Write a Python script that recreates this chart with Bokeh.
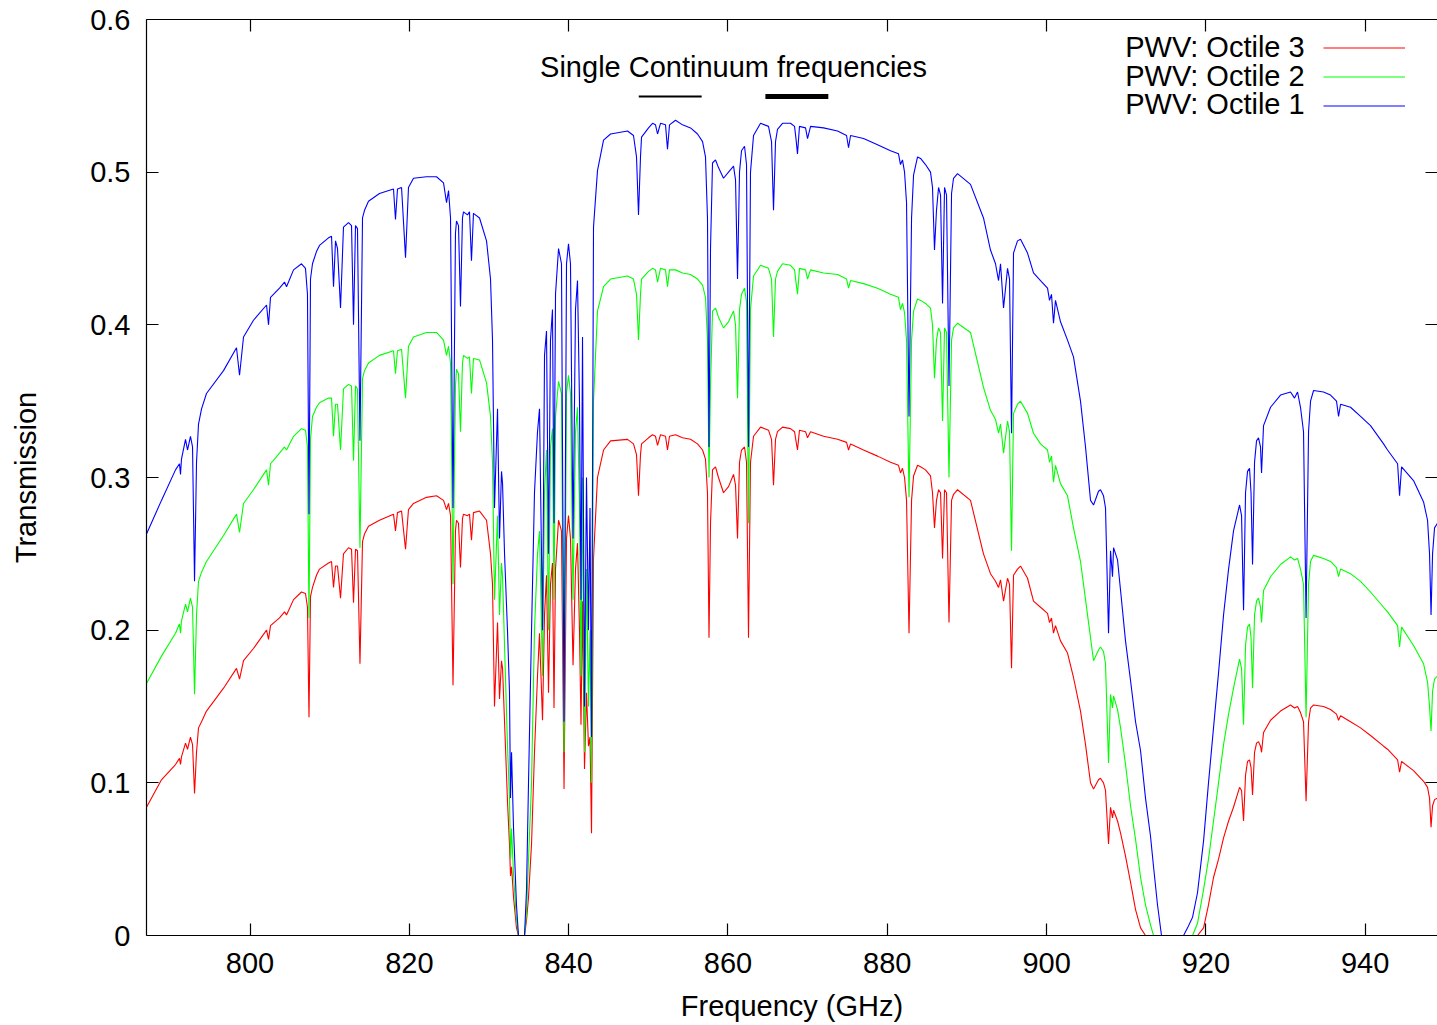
from bokeh.plotting import figure
from bokeh.models import (LinearAxis, FixedTicker, Label, Legend, LegendItem,
                          Range1d, ColumnDataSource)
from bokeh.core.properties import value
from bokeh.embed import file_html
from bokeh.resources import INLINE

FONT = "Liberation Sans"

# ---------------- data ----------------
freq = [
    787.00, 788.88, 790.64, 791.14, 791.27, 791.39, 791.90, 792.15, 792.52, 792.78,
    793.03, 793.28, 793.53, 793.91, 794.53, 796.67, 798.30, 798.68, 799.18, 800.43,
    802.07, 802.32, 802.57, 803.70, 804.33, 804.58, 805.46, 806.46, 806.96, 807.21,
    807.40, 807.59, 807.84, 808.34, 808.72, 809.85, 810.23, 810.48, 810.73, 810.98,
    811.36, 811.73, 812.36, 812.74, 812.99, 813.24, 813.49, 813.80, 814.12, 814.37,
    814.87, 816.25, 818.01, 818.26, 818.51, 819.02, 819.52, 819.89, 820.52, 822.15,
    823.41, 824.29, 824.67, 824.92, 825.17, 825.48, 825.79, 825.92, 826.17, 826.42,
    826.67, 826.80, 827.30, 827.55, 827.80, 828.05, 828.81, 829.69, 830.19, 830.44,
    830.69, 831.07, 831.32, 831.57, 831.70, 831.95, 832.32, 832.57, 832.70, 832.83,
    833.08, 833.45, 833.70, 834.46, 834.71, 834.96, 835.34, 835.71, 836.09, 836.34,
    836.72, 836.97, 837.22, 837.47, 837.72, 837.97, 838.16, 838.35, 838.73, 839.10,
    839.42, 839.73, 839.98, 840.23, 840.55, 840.86, 841.11, 841.36, 841.55, 841.74,
    841.99, 842.24, 842.49, 842.68, 842.87, 843.12, 843.62, 844.38, 845.26, 847.39,
    848.14, 848.52, 848.77, 849.02, 849.15, 850.03, 850.53, 850.90, 851.16, 851.53,
    852.16, 852.41, 852.66, 853.42, 854.29, 855.30, 856.18, 856.81, 857.18, 857.43,
    857.62, 857.81, 858.06, 858.44, 858.81, 859.44, 860.07, 860.70, 860.95, 861.20,
    861.45, 861.70, 862.08, 862.33, 862.58, 862.83, 863.21, 864.09, 865.09, 865.47,
    865.72, 865.97, 866.22, 866.85, 867.85, 868.36, 868.54, 868.73, 868.98, 869.74,
    869.99, 870.37, 872.00, 873.76, 874.89, 875.14, 875.39, 877.02, 878.78, 880.41,
    881.41, 881.66, 881.91, 882.17, 882.42, 882.73, 883.05, 883.30, 883.80, 884.18,
    884.80, 885.43, 885.68, 885.93, 886.18, 886.44, 886.69, 886.94, 887.19, 887.44,
    887.75, 888.07, 888.32, 888.82, 890.45, 892.08, 892.96, 893.59, 893.97, 894.22,
    894.60, 895.10, 895.35, 895.60, 895.85, 896.35, 896.73, 897.61, 898.36, 899.24,
    900.12, 900.37, 900.62, 900.87, 901.12, 901.75, 902.63, 903.38, 904.26, 904.89,
    905.52, 905.90, 906.52, 906.77, 907.15, 907.40, 907.78, 908.03, 908.28, 908.41,
    908.91, 909.29, 909.91, 910.54, 911.17, 911.80, 912.42, 913.05, 913.43, 913.93,
    914.43, 917.20, 917.70, 918.33, 918.95, 919.71, 920.33, 920.96, 921.59, 922.22,
    922.85, 923.47, 924.23, 924.48, 924.73, 924.98, 925.23, 925.48, 925.67, 925.86,
    926.11, 926.36, 926.61, 926.86, 926.99, 927.24, 928.12, 929.37, 930.63, 931.13,
    931.51, 931.88, 932.26, 932.58, 932.89, 933.14, 933.52, 934.77, 935.65, 936.40,
    936.66, 936.91, 938.16, 939.42, 940.67, 942.31, 942.81, 944.07, 944.32, 944.57,
    946.07, 947.33, 947.83, 948.08, 948.27, 948.46, 948.71, 949.08,
]

octile1 = [
    0.263, 0.285, 0.305, 0.309, 0.302, 0.312, 0.325, 0.318, 0.327, 0.320,
    0.232, 0.310, 0.335, 0.345, 0.355, 0.370, 0.385, 0.367, 0.392, 0.403,
    0.413, 0.400, 0.418, 0.424, 0.428, 0.425, 0.436, 0.440, 0.437, 0.420,
    0.276, 0.430, 0.440, 0.448, 0.452, 0.457, 0.458, 0.425, 0.455, 0.450,
    0.411, 0.464, 0.467, 0.465, 0.400, 0.465, 0.463, 0.324, 0.470, 0.475,
    0.481, 0.486, 0.489, 0.469, 0.489, 0.490, 0.444, 0.490, 0.496, 0.497,
    0.497, 0.493, 0.480, 0.488, 0.470, 0.280, 0.460, 0.468, 0.465, 0.412,
    0.470, 0.474, 0.472, 0.474, 0.442, 0.473, 0.470, 0.455, 0.430, 0.390,
    0.280, 0.345, 0.260, 0.304, 0.296, 0.250, 0.200, 0.160, 0.090, 0.120,
    0.070, 0.020, 0.000, 0.000, 0.030, 0.100, 0.200, 0.290, 0.330, 0.345,
    0.200, 0.380, 0.396, 0.250, 0.390, 0.410, 0.270, 0.420, 0.450, 0.440,
    0.140, 0.440, 0.453, 0.440, 0.260, 0.410, 0.429, 0.350, 0.220, 0.392,
    0.150, 0.300, 0.200, 0.280, 0.130, 0.464, 0.501, 0.521, 0.525, 0.527,
    0.524, 0.510, 0.472, 0.510, 0.523, 0.529, 0.532, 0.531, 0.525, 0.532,
    0.531, 0.515, 0.531, 0.534, 0.531, 0.529, 0.525, 0.520, 0.510, 0.470,
    0.320, 0.450, 0.506, 0.508, 0.503, 0.496, 0.500, 0.504, 0.495, 0.430,
    0.500, 0.514, 0.517, 0.505, 0.320, 0.500, 0.524, 0.532, 0.530, 0.520,
    0.475, 0.520, 0.528, 0.532, 0.532, 0.530, 0.522, 0.512, 0.530, 0.529,
    0.522, 0.530, 0.529, 0.527, 0.524, 0.516, 0.524, 0.522, 0.518, 0.514,
    0.512, 0.505, 0.508, 0.500, 0.480, 0.340, 0.470, 0.498, 0.510, 0.509,
    0.505, 0.500, 0.490, 0.449, 0.475, 0.490, 0.485, 0.414, 0.490, 0.485,
    0.360, 0.486, 0.496, 0.499, 0.492, 0.470, 0.449, 0.440, 0.429, 0.440,
    0.411, 0.437, 0.430, 0.329, 0.447, 0.455, 0.456, 0.447, 0.434, 0.429,
    0.424, 0.416, 0.420, 0.401, 0.416, 0.402, 0.390, 0.379, 0.350, 0.320,
    0.285, 0.282, 0.291, 0.292, 0.288, 0.280, 0.198, 0.252, 0.235, 0.254,
    0.246, 0.226, 0.193, 0.167, 0.140, 0.121, 0.090, 0.065, 0.045, 0.020,
    0.000, 0.000, 0.005, 0.012, 0.028, 0.062, 0.100, 0.136, 0.172, 0.210,
    0.240, 0.265, 0.282, 0.275, 0.213, 0.290, 0.304, 0.306, 0.290, 0.243,
    0.310, 0.324, 0.326, 0.320, 0.303, 0.334, 0.346, 0.354, 0.356, 0.352,
    0.356, 0.346, 0.330, 0.208, 0.330, 0.350, 0.357, 0.356, 0.354, 0.350,
    0.340, 0.348, 0.346, 0.340, 0.334, 0.322, 0.318, 0.309, 0.288, 0.307,
    0.298, 0.284, 0.272, 0.250, 0.210, 0.250, 0.267, 0.270,
]

octile2 = [
    0.165, 0.183, 0.198, 0.204, 0.198, 0.206, 0.217, 0.212, 0.221, 0.215,
    0.158, 0.210, 0.232, 0.238, 0.245, 0.262, 0.276, 0.264, 0.283, 0.292,
    0.305, 0.295, 0.309, 0.316, 0.320, 0.318, 0.327, 0.332, 0.331, 0.320,
    0.208, 0.325, 0.340, 0.346, 0.349, 0.352, 0.352, 0.327, 0.348, 0.348,
    0.318, 0.358, 0.361, 0.360, 0.311, 0.360, 0.358, 0.254, 0.365, 0.370,
    0.375, 0.380, 0.383, 0.368, 0.383, 0.384, 0.352, 0.386, 0.392, 0.395,
    0.395, 0.390, 0.380, 0.386, 0.375, 0.230, 0.360, 0.371, 0.368, 0.330,
    0.375, 0.380, 0.378, 0.379, 0.355, 0.378, 0.377, 0.362, 0.340, 0.310,
    0.220, 0.275, 0.210, 0.244, 0.235, 0.190, 0.125, 0.090, 0.050, 0.070,
    0.040, 0.010, 0.000, 0.000, 0.015, 0.050, 0.100, 0.200, 0.250, 0.265,
    0.170, 0.290, 0.318, 0.200, 0.320, 0.332, 0.220, 0.340, 0.363, 0.355,
    0.120, 0.355, 0.367, 0.355, 0.220, 0.330, 0.346, 0.280, 0.170, 0.300,
    0.120, 0.240, 0.150, 0.200, 0.100, 0.350, 0.409, 0.425, 0.430, 0.432,
    0.430, 0.420, 0.390, 0.420, 0.430, 0.435, 0.437, 0.436, 0.428, 0.437,
    0.436, 0.425, 0.436, 0.436, 0.434, 0.433, 0.430, 0.426, 0.418, 0.390,
    0.300, 0.360, 0.409, 0.411, 0.405, 0.398, 0.402, 0.409, 0.400, 0.352,
    0.410, 0.420, 0.424, 0.415, 0.270, 0.410, 0.432, 0.439, 0.437, 0.430,
    0.392, 0.430, 0.435, 0.440, 0.439, 0.436, 0.428, 0.420, 0.437, 0.436,
    0.430, 0.436, 0.434, 0.433, 0.430, 0.424, 0.429, 0.427, 0.424, 0.420,
    0.418, 0.410, 0.414, 0.408, 0.390, 0.287, 0.390, 0.409, 0.417, 0.416,
    0.414, 0.411, 0.400, 0.365, 0.390, 0.398, 0.395, 0.337, 0.398, 0.395,
    0.300, 0.390, 0.398, 0.401, 0.395, 0.359, 0.344, 0.338, 0.329, 0.335,
    0.316, 0.337, 0.330, 0.252, 0.342, 0.348, 0.350, 0.342, 0.329, 0.322,
    0.318, 0.310, 0.314, 0.297, 0.308, 0.296, 0.288, 0.267, 0.245, 0.220,
    0.195, 0.180, 0.187, 0.189, 0.186, 0.178, 0.113, 0.158, 0.149, 0.157,
    0.148, 0.136, 0.112, 0.085, 0.063, 0.038, 0.020, 0.007, 0.000, 0.000,
    0.000, 0.000, 0.000, 0.000, 0.008, 0.030, 0.050, 0.075, 0.100, 0.125,
    0.145, 0.162, 0.181, 0.175, 0.138, 0.190, 0.202, 0.204, 0.195, 0.162,
    0.210, 0.219, 0.221, 0.215, 0.205, 0.226, 0.235, 0.243, 0.248, 0.246,
    0.247, 0.240, 0.230, 0.143, 0.230, 0.245, 0.249, 0.247, 0.245, 0.241,
    0.235, 0.240, 0.237, 0.232, 0.225, 0.215, 0.212, 0.203, 0.189, 0.202,
    0.190, 0.178, 0.166, 0.150, 0.134, 0.160, 0.168, 0.170,
]

octile3 = [
    0.084, 0.102, 0.112, 0.116, 0.112, 0.117, 0.126, 0.122, 0.130, 0.125,
    0.093, 0.120, 0.136, 0.140, 0.147, 0.162, 0.175, 0.168, 0.180, 0.188,
    0.200, 0.194, 0.203, 0.208, 0.212, 0.210, 0.220, 0.225, 0.224, 0.215,
    0.143, 0.222, 0.228, 0.236, 0.240, 0.244, 0.245, 0.228, 0.242, 0.242,
    0.221, 0.250, 0.254, 0.253, 0.218, 0.253, 0.252, 0.178, 0.258, 0.263,
    0.268, 0.272, 0.276, 0.265, 0.277, 0.278, 0.253, 0.279, 0.283, 0.287,
    0.288, 0.285, 0.279, 0.283, 0.275, 0.164, 0.265, 0.272, 0.270, 0.241,
    0.273, 0.276, 0.275, 0.276, 0.259, 0.277, 0.278, 0.272, 0.250, 0.230,
    0.150, 0.205, 0.155, 0.180, 0.175, 0.140, 0.088, 0.060, 0.039, 0.045,
    0.025, 0.005, 0.000, 0.000, 0.010, 0.025, 0.060, 0.120, 0.170, 0.198,
    0.141, 0.210, 0.236, 0.159, 0.230, 0.244, 0.149, 0.240, 0.272, 0.265,
    0.096, 0.260, 0.275, 0.260, 0.177, 0.240, 0.257, 0.200, 0.138, 0.219,
    0.109, 0.159, 0.124, 0.130, 0.067, 0.247, 0.300, 0.318, 0.324, 0.325,
    0.322, 0.315, 0.288, 0.315, 0.322, 0.326, 0.328, 0.327, 0.321, 0.328,
    0.327, 0.318, 0.327, 0.328, 0.326, 0.325, 0.322, 0.318, 0.312, 0.290,
    0.195, 0.270, 0.305, 0.307, 0.300, 0.290, 0.294, 0.302, 0.295, 0.260,
    0.310, 0.318, 0.320, 0.310, 0.195, 0.310, 0.327, 0.333, 0.331, 0.325,
    0.295, 0.325, 0.330, 0.333, 0.332, 0.330, 0.324, 0.318, 0.331, 0.330,
    0.326, 0.330, 0.327, 0.325, 0.323, 0.318, 0.322, 0.318, 0.314, 0.310,
    0.308, 0.303, 0.306, 0.300, 0.285, 0.198, 0.285, 0.301, 0.308, 0.307,
    0.305, 0.301, 0.290, 0.267, 0.285, 0.292, 0.290, 0.247, 0.292, 0.290,
    0.205, 0.285, 0.289, 0.292, 0.285, 0.250, 0.237, 0.232, 0.228, 0.233,
    0.219, 0.234, 0.230, 0.175, 0.236, 0.240, 0.242, 0.234, 0.219, 0.215,
    0.211, 0.205, 0.208, 0.198, 0.203, 0.193, 0.185, 0.169, 0.147, 0.125,
    0.100, 0.096, 0.102, 0.103, 0.100, 0.095, 0.060, 0.084, 0.077, 0.082,
    0.075, 0.067, 0.052, 0.035, 0.017, 0.005, 0.000, 0.000, 0.000, 0.000,
    0.000, 0.000, 0.000, 0.000, 0.000, 0.005, 0.020, 0.038, 0.050, 0.064,
    0.075, 0.084, 0.097, 0.095, 0.075, 0.105, 0.114, 0.115, 0.110, 0.092,
    0.120, 0.126, 0.127, 0.124, 0.120, 0.133, 0.141, 0.147, 0.151, 0.149,
    0.150, 0.146, 0.140, 0.088, 0.140, 0.149, 0.151, 0.150, 0.148, 0.145,
    0.141, 0.144, 0.140, 0.136, 0.131, 0.124, 0.122, 0.115, 0.107, 0.114,
    0.108, 0.101, 0.097, 0.090, 0.071, 0.085, 0.089, 0.090,
]

series_names = ["PWV: Octile 3", "PWV: Octile 2", "PWV: Octile 1"]

# single-continuum frequency bands (GHz)
cont_lo = [848.8, 864.7]
cont_hi = [856.7, 872.6]
cont_title = "Single Continuum frequencies"

x_ticks = [800, 820, 840, 860, 880, 900, 920, 940]
y_ticks = [0.0, 0.1, 0.2, 0.3, 0.4, 0.5, 0.6]
y_tick_labels = ["0", "0.1", "0.2", "0.3", "0.4", "0.5", "0.6"]

x_label = "Frequency (GHz)"
y_label = "Transmission"

# ---------------- figure ----------------
p = figure(width=1437, height=1025,
           x_range=Range1d(787.0, 949.08), y_range=Range1d(0.0, 0.6),
           output_backend="svg", toolbar_location=None,
           min_border_left=146, min_border_right=0,
           min_border_top=19, min_border_bottom=90)
p.outline_line_color = None
p.xgrid.visible = False
p.ygrid.visible = False
p.background_fill_color = "white"
p.border_fill_color = "white"

TICK_LEN = 12
FS = "29px"


def style_axis(ax):
    ax.major_tick_in = TICK_LEN
    ax.major_tick_out = 0
    ax.minor_tick_in = 0
    ax.minor_tick_out = 0
    ax.axis_line_color = "black"
    ax.axis_line_width = 1.2
    ax.major_tick_line_color = "black"
    ax.major_tick_line_width = 1.2
    ax.major_label_text_font = FONT
    ax.major_label_text_font_size = FS
    ax.major_label_text_color = "black"
    ax.axis_label_text_font = FONT
    ax.axis_label_text_font_size = FS
    ax.axis_label_text_font_style = "normal"
    ax.axis_label_text_color = "black"


xax = p.xaxis[0]
xax.ticker = FixedTicker(ticks=x_ticks)
style_axis(xax)
xax.major_label_standoff = 17
xax.major_label_text_line_height = 0.8
xax.axis_label = x_label
xax.axis_label_standoff = 14
xax.axis_label_text_line_height = 0.8

yax = p.yaxis[0]
yax.ticker = FixedTicker(ticks=y_ticks)
style_axis(yax)
yax.major_label_overrides = {t: s for t, s in zip(y_ticks, y_tick_labels)}
yax.major_label_standoff = 16
yax.axis_label = y_label
yax.axis_label_standoff = 45

top = LinearAxis(ticker=FixedTicker(ticks=x_ticks))
style_axis(top)
top.major_label_text_font_size = "0px"
top.major_label_standoff = 0
top.major_label_overrides = {t: "" for t in x_ticks}
p.add_layout(top, "above")

right = LinearAxis(ticker=FixedTicker(ticks=y_ticks))
style_axis(right)
right.axis_line_color = None
right.major_label_text_font_size = "0px"
right.major_label_standoff = 0
right.major_label_overrides = {t: "" for t in y_ticks}
p.add_layout(right, "right")

# ---------------- curves ----------------
colors = ["#ff0000", "#00ff00", "#0000ff"]
src = ColumnDataSource(dict(freq=freq, o1=octile1, o2=octile2, o3=octile3))
renderers = []
for col, c in zip(["o3", "o2", "o1"], colors):
    r = p.line("freq", col, source=src, line_color=c, line_width=1.1)
    renderers.append(r)

# ---------------- single-continuum bands ----------------
cont_src = ColumnDataSource(dict(x0=cont_lo, x1=cont_hi,
                                 y=[0.5495] * len(cont_lo), w=[2, 5]))
p.segment(x0="x0", y0="y", x1="x1", y1="y", line_width="w",
          line_color="black", source=cont_src)
p.add_layout(Label(x=(cont_lo[0] + cont_hi[-1]) / 2, y=0.569, text=cont_title,
                   text_align="center", text_baseline="middle",
                   text_font=FONT, text_font_size=FS, text_color="black"))

# ---------------- legend (text left, sample right, as in gnuplot) ----------------
legend_text_y = [0.582, 0.563, 0.5445]
for name, ty in zip(series_names, legend_text_y):
    p.add_layout(Label(x=932.4, y=ty, text=name, text_align="right",
                       text_baseline="middle", text_font=FONT,
                       text_font_size=FS, text_color="black"))

legend = Legend(items=[LegendItem(label=value(" "), renderers=[r]) for r in renderers],
                location=(1177, 815), orientation="vertical",
                glyph_width=82, glyph_height=29, label_height=29, label_width=0,
                label_standoff=0, spacing=0, padding=0, margin=0,
                border_line_color=None, background_fill_alpha=0,
                label_text_font_size="10px")
p.add_layout(legend)

open("out.html", "w").write(file_html(p, INLINE))
